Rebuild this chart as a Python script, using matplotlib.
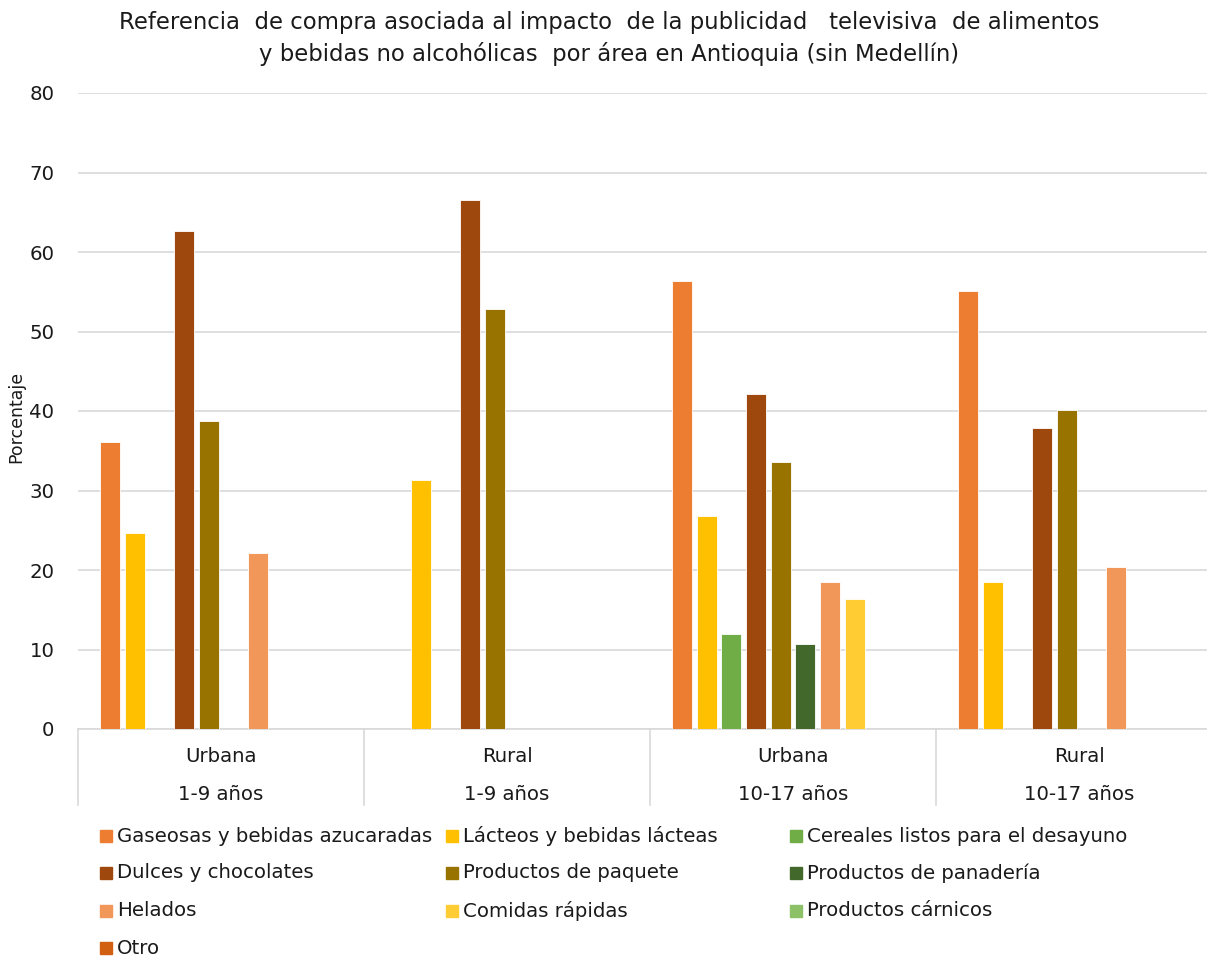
import matplotlib.pyplot as plt
import numpy as np
from matplotlib.patches import Rectangle
from matplotlib.transforms import blended_transform_factory

plt.rcParams["font.family"] = ["DejaVu Sans"]

AREAS = ["Urbana", "Rural", "Urbana", "Rural"]
AGES = ["1-9 años", "1-9 años", "10-17 años", "10-17 años"]

SERIES = [
    "Gaseosas y bebidas azucaradas",
    "Lácteos y bebidas lácteas",
    "Cereales listos para el desayuno",
    "Dulces y chocolates",
    "Productos de paquete",
    "Productos de panadería",
    "Helados",
    "Comidas rápidas",
    "Productos cárnicos",
    "Otro",
]
COLORS = [
    "#ED7D31", "#FFC000", "#70AD47", "#9E480E", "#997300",
    "#43682B", "#F1975A", "#FFCD33", "#8CC168", "#D26012",
]

# percentage per group, one list per series (0 = no bar)
gaseosas = [36.1, 0, 56.3, 55.1]
lacteos = [24.7, 31.3, 26.8, 18.5]
cereales = [0, 0, 11.9, 0]
dulces = [62.6, 66.5, 42.2, 37.8]
paquete = [38.7, 52.8, 33.6, 40.1]
panaderia = [0, 0, 10.7, 0]
helados = [22.2, 0, 18.5, 20.4]
comidas = [0, 0, 16.4, 0]
carnicos = [0, 0, 0, 0]
otro = [0, 0, 0, 0]
VALUES = [gaseosas, lacteos, cereales, dulces, paquete,
          panaderia, helados, comidas, carnicos, otro]

GRID = "#D9D9D9"
TEXT = "#1A1A1A"
FS = 14.2

fig = plt.figure(figsize=(12.07, 9.58), dpi=100)
ax = fig.add_axes([78 / 1207, 1 - 729 / 958, 1144 / 1207, 636 / 958])

n_groups = len(AREAS)
step = 0.0864
width = 0.07
centers = np.arange(n_groups) + 0.5
for i, (vals, color) in enumerate(zip(VALUES, COLORS)):
    x = centers + (i - 4.5) * step
    v = np.array(vals, dtype=float)
    mask = v > 0
    ax.bar(x[mask], v[mask], width=width, color=color,
           edgecolor="white", linewidth=0.6, zorder=3)

ax.set_xlim(0, n_groups)
ax.set_ylim(0, 80)
ax.set_yticks(range(0, 81, 10))
ax.tick_params(axis="y", length=0, pad=17, labelsize=FS, labelcolor=TEXT)
ax.set_xticks([])
ax.grid(axis="y", color=GRID, linewidth=1.2, zorder=0)
for s in ["left", "right", "top"]:
    ax.spines[s].set_visible(False)
ax.spines["bottom"].set_color(GRID)
ax.spines["bottom"].set_linewidth(1.2)
ax.set_ylabel("Porcentaje", fontsize=12.5, color=TEXT)
ax.yaxis.set_label_coords(-53 / 1144, 0.49)

# two-row category axis with separators
trans = blended_transform_factory(ax.transData, ax.transAxes)
px = 1 / 636
for k in range(n_groups + 1):
    ax.plot([k, k], [0, -76 * px], color=GRID, linewidth=1.2,
            transform=trans, clip_on=False)
for k in range(n_groups):
    ax.text(k + 0.5, -27 * px, AREAS[k], transform=trans, ha="center",
            va="center", fontsize=FS, color=TEXT)
    ax.text(k + 0.5, -66 * px, AGES[k], transform=trans, ha="center",
            va="center", fontsize=FS, color=TEXT)

fig.text(0.505, 1 - 22 / 958,
         "Referencia  de compra asociada al impacto  de la publicidad   televisiva  de alimentos",
         ha="center", va="center", fontsize=16.4, color=TEXT)
fig.text(0.505, 1 - 54 / 958,
         "y bebidas no alcohólicas  por área en Antioquia (sin Medellín)",
         ha="center", va="center", fontsize=16.4, color=TEXT)

# legend laid out in rows of three
col_x = [100, 446, 790]
row_y = [836, 873, 911, 948]
for i, (name, color) in enumerate(zip(SERIES, COLORS)):
    r, c = divmod(i, 3)
    x0, y0 = col_x[c], row_y[r]
    fig.add_artist(Rectangle((x0 / 1207, 1 - (y0 + 6) / 958), 12 / 1207, 12 / 958,
                             transform=fig.transFigure, color=color))
    fig.text((x0 + 17) / 1207, 1 - y0 / 958, name, ha="left", va="center",
             fontsize=FS, color=TEXT)

fig.savefig("out.png", dpi=100)
